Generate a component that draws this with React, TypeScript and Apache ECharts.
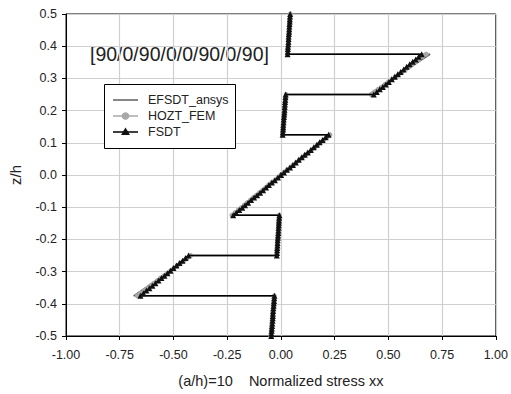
import React, { useEffect, useRef } from "react";
import * as echarts from "echarts";

const zPts = [
  -0.5, -0.492, -0.484, -0.477, -0.469, -0.461, -0.453, -0.445, -0.438, -0.43, -0.422, -0.414, -0.406, -0.398, -0.391, -0.383, -0.375,
  -0.375, -0.367, -0.359, -0.352, -0.344, -0.336, -0.328, -0.32, -0.313, -0.305, -0.297, -0.289, -0.281, -0.273, -0.266, -0.258, -0.25,
  -0.25, -0.242, -0.234, -0.227, -0.219, -0.211, -0.203, -0.195, -0.188, -0.18, -0.172, -0.164, -0.156, -0.148, -0.141, -0.133, -0.125,
  -0.125, -0.117, -0.109, -0.102, -0.094, -0.086, -0.078, -0.07, -0.063, -0.055, -0.047, -0.039, -0.031, -0.023, -0.016, -0.008, 0,
  0, 0.008, 0.016, 0.023, 0.031, 0.039, 0.047, 0.055, 0.063, 0.07, 0.078, 0.086, 0.094, 0.102, 0.109, 0.117, 0.125,
  0.125, 0.133, 0.141, 0.148, 0.156, 0.164, 0.172, 0.18, 0.188, 0.195, 0.203, 0.211, 0.219, 0.227, 0.234, 0.242, 0.25,
  0.25, 0.258, 0.266, 0.273, 0.281, 0.289, 0.297, 0.305, 0.313, 0.32, 0.328, 0.336, 0.344, 0.352, 0.359, 0.367, 0.375,
  0.375, 0.383, 0.391, 0.398, 0.406, 0.414, 0.422, 0.43, 0.438, 0.445, 0.453, 0.461, 0.469, 0.477, 0.484, 0.492, 0.5,
];

const fsdtX = [
  -0.045, -0.044, -0.043, -0.042, -0.041, -0.04, -0.039, -0.038, -0.0375, -0.037, -0.036, -0.035, -0.034, -0.033, -0.032, -0.031, -0.03,
  -0.654, -0.64, -0.626, -0.612, -0.598, -0.584, -0.57, -0.556, -0.542, -0.528, -0.514, -0.5, -0.486, -0.472, -0.458, -0.444, -0.43,
  -0.019, -0.018, -0.0175, -0.017, -0.016, -0.0155, -0.015, -0.014, -0.013, -0.012, -0.0115, -0.011, -0.01, -0.0095, -0.009, -0.008, -0.007,
  -0.222, -0.208, -0.194, -0.18, -0.167, -0.153, -0.139, -0.125, -0.111, -0.097, -0.083, -0.069, -0.056, -0.042, -0.028, -0.014, 0,
  0, 0.014, 0.028, 0.042, 0.056, 0.069, 0.083, 0.097, 0.111, 0.125, 0.139, 0.153, 0.167, 0.18, 0.194, 0.208, 0.222,
  0.008, 0.009, 0.01, 0.0105, 0.011, 0.012, 0.013, 0.014, 0.015, 0.016, 0.017, 0.0175, 0.018, 0.019, 0.02, 0.021, 0.022,
  0.432, 0.446, 0.46, 0.474, 0.488, 0.502, 0.516, 0.53, 0.544, 0.557, 0.571, 0.585, 0.599, 0.613, 0.627, 0.641, 0.655,
  0.031, 0.032, 0.0325, 0.033, 0.034, 0.035, 0.0355, 0.036, 0.037, 0.038, 0.0385, 0.039, 0.04, 0.041, 0.0415, 0.042, 0.043,
];

const hoztX = [
  -0.047, -0.046, -0.045, -0.044, -0.043, -0.042, -0.041, -0.04, -0.039, -0.038, -0.037, -0.036, -0.035, -0.034, -0.033, -0.032, -0.031,
  -0.668, -0.653, -0.637, -0.622, -0.606, -0.591, -0.575, -0.56, -0.544, -0.529, -0.513, -0.498, -0.482, -0.467, -0.451, -0.436, -0.42,
  -0.02, -0.019, -0.0185, -0.018, -0.017, -0.0165, -0.016, -0.015, -0.014, -0.013, -0.0125, -0.012, -0.011, -0.0105, -0.01, -0.009, -0.008,
  -0.228, -0.214, -0.199, -0.185, -0.171, -0.157, -0.142, -0.128, -0.114, -0.1, -0.085, -0.071, -0.057, -0.043, -0.028, -0.014, 0,
  0, 0.014, 0.028, 0.043, 0.057, 0.071, 0.085, 0.1, 0.114, 0.128, 0.142, 0.157, 0.171, 0.185, 0.199, 0.214, 0.228,
  0.008, 0.009, 0.01, 0.011, 0.012, 0.013, 0.014, 0.015, 0.016, 0.017, 0.018, 0.019, 0.02, 0.021, 0.022, 0.023, 0.024,
  0.42, 0.436, 0.452, 0.468, 0.484, 0.5, 0.516, 0.532, 0.548, 0.564, 0.58, 0.596, 0.612, 0.628, 0.644, 0.66, 0.676,
  0.031, 0.032, 0.0325, 0.033, 0.034, 0.035, 0.036, 0.0365, 0.0375, 0.038, 0.039, 0.04, 0.0405, 0.041, 0.042, 0.043, 0.044,
];

const efsdtZ = [
  -0.5, -0.375, -0.375, -0.25, -0.25, -0.125, -0.125, 0,
  0, 0.125, 0.125, 0.25, 0.25, 0.375, 0.375, 0.5,
];
const efsdtX = [
  -0.046, -0.031, -0.685, -0.415, -0.02, -0.008, -0.232, 0,
  0, 0.232, 0.008, 0.024, 0.409, 0.694, 0.031, 0.044,
];

const seriesNames = ["EFSDT_ansys", "HOZT_FEM", "FSDT"];
const seriesColors = ["#5e5e5e", "#a8a8a8", "#000000"];
const layupLabel = "[90/0/90/0/0/90/0/90]";
const xAxisTitle = "(a/h)=10    Normalized stress xx";
const yAxisTitle = "z/h";

export default function App() {
  const ref = useRef<HTMLDivElement>(null);
  useEffect(() => {
    if (!ref.current) return;
    document.body.style.margin = "0";
    document.body.style.overflow = "hidden";
    const chart = echarts.init(ref.current, null, { renderer: "svg" });
    const font = "Liberation Sans, Arial, sans-serif";

    // hand-drawn legend box (line-only icon for the first series)
    const lgX = 104, lgY = 84, lgW = 131, lgH = 64;
    const rowY = [100, 116, 132];
    const icX0 = 113, icX1 = 138, icXc = 125.5, txX = 148;
    const legendGraphics: any[] = [
      {
        type: "rect",
        shape: { x: lgX + 0.5, y: lgY + 0.5, width: lgW, height: lgH },
        style: { fill: "#fff", stroke: "#000", lineWidth: 1 },
        z: 100,
      },
    ];
    seriesNames.forEach((name, i) => {
      legendGraphics.push({
        type: "line",
        shape: { x1: icX0, y1: rowY[i], x2: icX1, y2: rowY[i] },
        style: { stroke: seriesColors[i], lineWidth: 1.5 },
        z: 101,
      });
      legendGraphics.push({
        type: "text",
        x: txX,
        y: rowY[i],
        style: {
          text: name,
          fontFamily: font,
          fontSize: 12.5,
          fill: "#222",
          textVerticalAlign: "middle",
          verticalAlign: "middle",
        },
        z: 101,
      });
    });
    legendGraphics.push({
      type: "circle",
      shape: { cx: icXc, cy: rowY[1], r: 3.8 },
      style: { fill: seriesColors[1] },
      z: 102,
    });
    legendGraphics.push({
      type: "polygon",
      shape: { points: [[icXc, rowY[2] - 4.5], [icXc + 4.5, rowY[2] + 3], [icXc - 4.5, rowY[2] + 3]] },
      style: { fill: "#111" },
      z: 102,
    });

    chart.setOption({
      animation: false,
      backgroundColor: "#fff",
      textStyle: { fontFamily: font },
      grid: {
        left: 65,
        right: 13,
        top: 14,
        bottom: 58,
        show: true,
        borderColor: "#000",
        borderWidth: 1,
        backgroundColor: "transparent",
      },
      xAxis: {
        type: "value",
        min: -1,
        max: 1,
        interval: 0.25,
        name: xAxisTitle,
        nameLocation: "middle",
        nameGap: 37,
        nameTextStyle: { fontFamily: font, fontSize: 14.5, color: "#222" },
        axisLine: { show: true, onZero: false, lineStyle: { color: "#000", width: 1 } },
        axisTick: { show: true, length: 4, lineStyle: { color: "#000" } },
        axisLabel: {
          fontFamily: font,
          fontSize: 12.5,
          color: "#222",
          margin: 12,
          formatter: (v: number) => v.toFixed(2),
        },
        splitLine: { show: true, lineStyle: { color: "#d0d0d0", width: 1.2 } },
      },
      yAxis: {
        type: "value",
        min: -0.5,
        max: 0.5,
        interval: 0.1,
        name: yAxisTitle,
        nameLocation: "middle",
        nameGap: 43,
        nameTextStyle: { fontFamily: font, fontSize: 15, color: "#222" },
        axisLine: { show: true, onZero: false, lineStyle: { color: "#000", width: 1 } },
        axisTick: { show: true, length: 4, lineStyle: { color: "#000" } },
        axisLabel: {
          fontFamily: font,
          fontSize: 12.5,
          color: "#222",
          margin: 9,
          formatter: (v: number) => v.toFixed(1),
        },
        splitLine: { show: true, lineStyle: { color: "#d0d0d0", width: 1.2 } },
      },
      graphic: [
        {
          type: "text",
          left: 90,
          top: 44,
          style: {
            text: layupLabel,
            fontFamily: font,
            fontSize: 19.5,
            fill: "#222",
          },
        },
        ...legendGraphics,
      ],
      series: [
        {
          name: seriesNames[0],
          type: "line",
          symbol: "none",
          data: efsdtZ.map((z, i) => [efsdtX[i], z]),
          lineStyle: { color: seriesColors[0], width: 1.5 },
          itemStyle: { color: seriesColors[0] },
          z: 2,
        },
        {
          name: seriesNames[1],
          type: "line",
          symbol: "circle",
          symbolSize: 5,
          showAllSymbol: true,
          data: zPts.map((z, i) => [hoztX[i], z]),
          lineStyle: { color: seriesColors[1], width: 1.5 },
          itemStyle: { color: seriesColors[1] },
          z: 3,
        },
        {
          name: seriesNames[2],
          type: "line",
          symbol: "triangle",
          symbolSize: 6,
          showAllSymbol: true,
          data: zPts.map((z, i) => [fsdtX[i], z]),
          lineStyle: { color: seriesColors[2], width: 1.5 },
          itemStyle: { color: "#111" },
          z: 4,
        },
      ],
    });
    return () => chart.dispose();
  }, []);
  return <div ref={ref} style={{ width: 511, height: 394 }} />;
}
